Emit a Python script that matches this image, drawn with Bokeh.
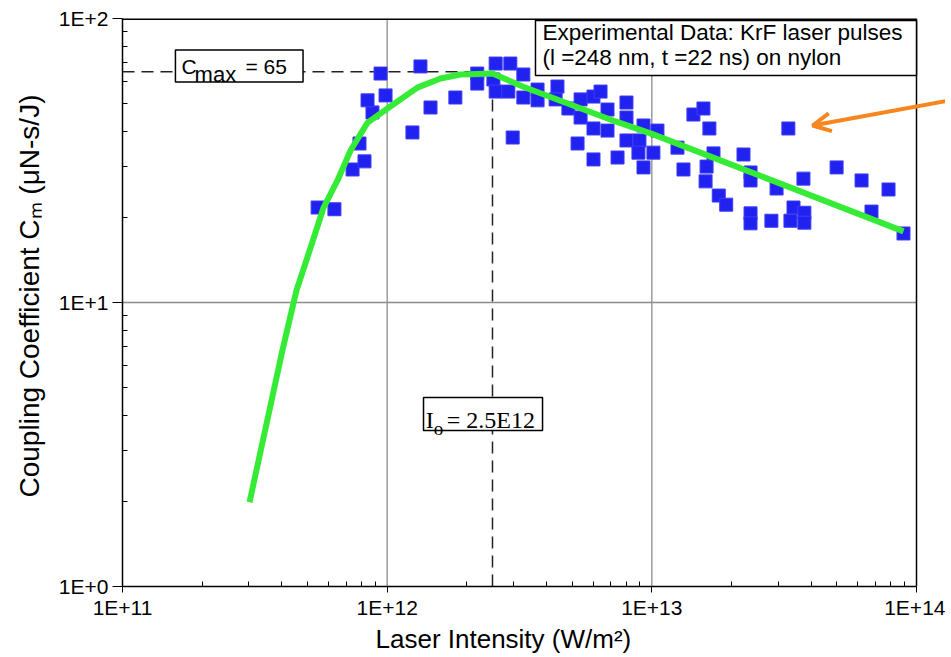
from bokeh.plotting import figure
from bokeh.models import (FixedTicker, Label, BoxAnnotation, Arrow, OpenHead,
                          CustomJSTickFormatter, Title)
from bokeh.embed import file_html
from bokeh.resources import INLINE

# ---- data ----
intensity = [5.46e11, 6.32e11, 7.40e11, 8.21e11, 7.86e11, 8.80e11, 8.43e11, 9.44e11,
             9.86e11, 1.246e12, 1.336e12, 1.458e12, 1.81e12, 2.19e12, 2.19e12, 2.57e12,
             2.92e12, 2.52e12, 2.57e12, 2.87e12, 2.98e12, 3.27e12, 3.27e12, 3.70e12,
             3.70e12, 4.40e12, 4.33e12, 4.84e12, 5.38e12, 5.38e12, 6.02e12, 6.40e12,
             6.02e12, 6.80e12, 6.80e12, 8.02e12, 8.02e12, 9.30e12, 8.02e12, 8.98e12,
             1.05e13, 1.014e13, 8.90e12, 7.42e12, 6.02e12, 5.24e12, 9.30e12, 1.25e13,
             1.317e13, 1.436e13, 1.567e13, 1.65e13, 1.71e13, 1.61e13, 1.596e13, 1.79e13,
             1.91e13, 2.22e13, 2.36e13, 2.36e13, 2.36e13, 2.36e13, 2.83e13, 2.96e13,
             3.28e13, 3.43e13, 3.77e13, 3.34e13, 3.77e13, 3.74e13, 4.99e13, 6.20e13,
             6.76e13, 7.84e13, 8.93e13]
coupling = [21.6, 21.3, 29.4, 31.4, 36.3, 46.7, 51.5, 64.0,
            53.6, 39.7, 67.8, 48.6, 52.7, 64.0, 59.0, 69.4,
            69.4, 61.0, 55.3, 55.3, 38.1, 63.5, 52.7, 56.2,
            51.5, 57.6, 51.9, 48.2, 51.9, 44.8, 53.1, 55.3,
            41.0, 47.8, 40.3, 50.6, 44.8, 42.0, 37.2, 37.2,
            40.3, 33.7, 33.7, 32.4, 31.9, 36.3, 29.9, 35.1,
            29.4, 45.9, 48.2, 41.0, 33.5, 30.1, 26.7, 23.8,
            22.1, 33.2, 28.7, 26.9, 20.6, 19.0, 19.4, 25.2,
            41.0, 21.6, 20.7, 19.4, 19.1, 27.3, 29.9, 26.9,
            20.9, 25.0, 17.5]

fit_intensity = [3.02e11, 4.02e11, 4.54e11, 5.27e11, 5.75e11, 6.49e11, 7.27e11, 8.43e11,
                 1.003e12, 1.30e12, 1.59e12, 1.89e12, 2.50e12, 3.25e12, 7.29e12, 9.89e12,
                 8.93e13]
fit_coupling = [1.98, 6.78, 11.0, 16.8, 21.6, 26.9, 34.3, 43.0,
                48.2, 57.1, 61.5, 63.5, 64.0, 57.6, 43.4, 39.4,
                17.8]

x_ticks = [1e11, 1e12, 1e13, 1e14]
x_tick_labels = ["1E+11", "1E+12", "1E+13", "1E+14"]
y_ticks = [1, 10, 100]
y_tick_labels = ["1E+0", "1E+1", "1E+2"]

c_max = 65
i_o = 2.5e12

FONT = "Liberation Sans"
SERIF = "Liberation Serif"

# frame extends past 1E+14 so the arrow can reach the page edge
p = figure(width=945, height=655, x_axis_type="log", y_axis_type="log",
           x_range=(1e11, 1.287e14), y_range=(1, 100),
           output_backend="svg", toolbar_location=None,
           min_border_left=122, min_border_right=0, min_border_top=18,
           min_border_bottom=69)
p.background_fill_color = "white"
p.border_fill_color = "white"
p.outline_line_color = None
p.xgrid.visible = False
p.ygrid.visible = False

x_minor = [k * t for t in x_ticks[:-1] for k in range(2, 10)]
y_minor = [k * t for t in y_ticks[:-1] for k in range(2, 10)]

p.xaxis.ticker = FixedTicker(ticks=x_ticks, minor_ticks=x_minor)
p.yaxis.ticker = FixedTicker(ticks=y_ticks, minor_ticks=y_minor)
p.xaxis.bounds = (x_ticks[0], x_ticks[-1])

fmt_code = """
const i = tvals.findIndex(t => Math.abs(Math.log10(t) - Math.log10(tick)) < 1e-6);
return i >= 0 ? tlabels[i] : '';
"""
p.xaxis.formatter = CustomJSTickFormatter(args=dict(tvals=x_ticks, tlabels=x_tick_labels), code=fmt_code)
p.yaxis.formatter = CustomJSTickFormatter(args=dict(tvals=y_ticks, tlabels=y_tick_labels), code=fmt_code)

for ax in (p.xaxis[0], p.yaxis[0]):
    ax.axis_line_color = "black"
    ax.axis_line_width = 1.5
    ax.major_tick_line_color = "black"
    ax.minor_tick_line_color = "black"
    ax.major_tick_in = 0
    ax.minor_tick_in = 5
    ax.minor_tick_out = 0
    ax.major_label_text_font = FONT
    ax.major_label_text_font_size = "21px"
    ax.major_label_text_color = "black"

p.xaxis.major_tick_out = 6
p.xaxis.major_label_standoff = 3
p.yaxis.major_tick_out = 10
p.yaxis.major_label_standoff = 4

# axis titles (placed as titles so they can sit off-centre like the reference)
p.add_layout(Title(text="Laser Intensity (W/m²)", align="left", offset=253,
                   text_font=FONT, text_font_size="26px", text_font_style="normal",
                   text_color="black", standoff=0), "below")
p.add_layout(Title(text="Coupling Coefficient Cₘ (μN-s/J)", align="left", offset=89,
                   text_font=FONT, text_font_size="28px", text_font_style="normal",
                   text_color="black", standoff=21), "left")

# grid lines at the inner major ticks
p.segment(x0=x_ticks[1:-1], x1=x_ticks[1:-1], y0=y_ticks[0], y1=y_ticks[-1],
          line_color="#8c8c8c", line_width=1.3)
p.segment(x0=x_ticks[0], x1=x_ticks[-1], y0=y_ticks[1:-1], y1=y_ticks[1:-1],
          line_color="#8c8c8c", line_width=1.3)

# dashed guide lines
p.line([x_ticks[0], i_o], [c_max, c_max], line_color="#222222", line_width=1.5, line_dash="12 7")
p.line([i_o, i_o], [y_ticks[0], c_max], line_color="#222222", line_width=1.5, line_dash="12 7")

# data
p.scatter(intensity, coupling, marker="square", size=13,
          fill_color="#2121F0", line_color="#3d3df5", line_width=1)

# fit curve
p.line(fit_intensity, fit_coupling, line_color="#35EB35", line_width=6, line_join="round")

# frame: top and right edges
p.line([x_ticks[0], x_ticks[-1]], [y_ticks[-1], y_ticks[-1]], line_color="black", line_width=3)
p.line([x_ticks[-1], x_ticks[-1]], [y_ticks[0], y_ticks[-1]], line_color="black", line_width=1.5)

# C_max box
p.add_layout(BoxAnnotation(left=1.585e11, right=4.81e11, bottom=59.7, top=77.5,
                           fill_color="white", fill_alpha=1, line_color="black",
                           line_width=1.5, line_alpha=1))
p.add_layout(Label(x=1.671e11, y=68.0, text="C", text_font=FONT, text_font_size="21px",
                   text_baseline="middle", text_color="black"))
p.add_layout(Label(x=1.872e11, y=63.5, text="max", text_font=FONT, text_font_size="22px",
                   text_baseline="middle", text_color="black"))
p.add_layout(Label(x=2.915e11, y=68.0, text="= 65", text_font=FONT, text_font_size="21px",
                   text_baseline="middle", text_color="black"))

# I_o box
p.add_layout(BoxAnnotation(left=1.372e12, right=3.864e12, bottom=3.54, top=4.63,
                           fill_color="white", fill_alpha=1, line_color="black",
                           line_width=1.5, line_alpha=1))
p.add_layout(Label(x=1.40e12, y=3.87, text="I", text_font=SERIF,
                   text_font_size="24px", text_baseline="middle", text_color="black"))
p.add_layout(Label(x=1.50e12, y=3.60, text="o", text_font=SERIF,
                   text_font_size="19px", text_baseline="middle", text_color="black"))
p.add_layout(Label(x=1.68e12, y=3.87, text="= 2.5E12", text_font=SERIF,
                   text_font_size="24px", text_baseline="middle", text_color="black"))

# experimental data box
p.add_layout(BoxAnnotation(left=3.634e12, right=1e14, bottom=63.0, top=98.4,
                           fill_color="white", fill_alpha=1, line_color="black",
                           line_width=1.5, line_alpha=1))
p.add_layout(Label(x=3.86e12, y=89.6, text="Experimental Data: KrF laser pulses",
                   text_font=FONT, text_font_size="22.5px", text_baseline="middle",
                   text_color="black"))
p.add_layout(Label(x=3.86e12, y=72.6, text=" (l =248 nm, t =22 ns) on nylon",
                   text_font=FONT, text_font_size="22.5px", text_baseline="middle",
                   text_color="black"))

# orange arrow
p.add_layout(Arrow(end=OpenHead(size=18, line_color="#F7861F", line_width=4),
                   x_start=1.34e14, y_start=51.5, x_end=4.05e13, y_end=42.0,
                   line_color="#F7861F", line_width=4))

open("out.html", "w").write(file_html(p, INLINE))
